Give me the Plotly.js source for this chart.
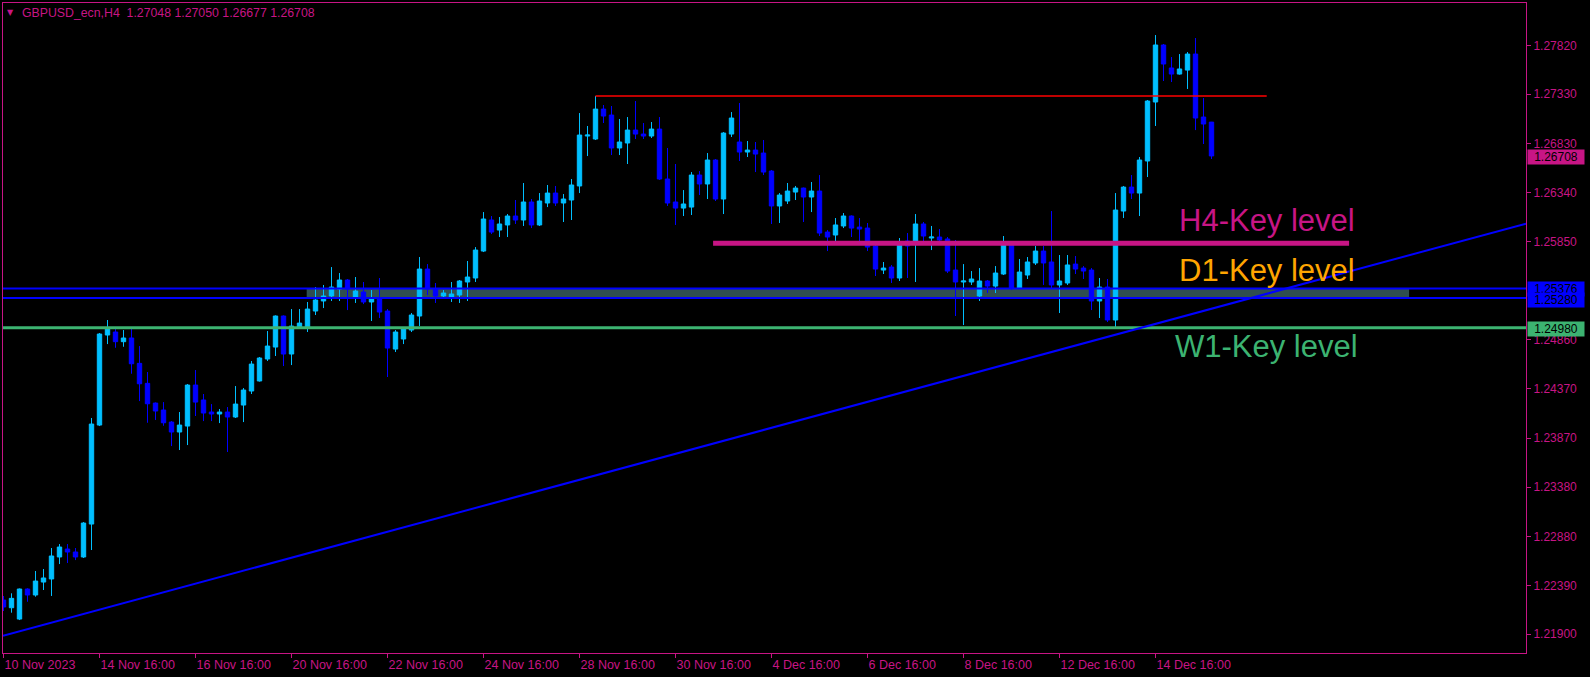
<!DOCTYPE html>
<html><head><meta charset="utf-8">
<script src="https://cdn.plot.ly/plotly-3.0.1.min.js"></script>
<style>html,body{margin:0;padding:0;background:#000;overflow:hidden}#chart{width:1590px;height:677px}</style>
</head><body><div id="chart"></div>
<script>
const symbolName = "GBPUSD_ecn,H4";

const openP = [1.22244,1.22167,1.22053,1.22355,1.22295,1.22425,1.22456,1.22677,1.22757,1.22727,
1.22677,1.23008,1.24003,1.24908,1.24938,1.24841,1.24878,1.24623,1.24422,1.24224,
1.24154,1.24033,1.23933,1.23993,1.24405,1.24255,1.24134,1.24114,1.24134,1.24084,
1.24204,1.24345,1.24446,1.24667,1.24787,1.25099,1.24717,1.24988,1.24978,1.25149,
1.25250,1.25300,1.25370,1.25461,1.25290,1.25340,1.25240,1.25270,1.25149,1.24767,
1.24868,1.24958,1.25099,1.25571,1.25370,1.25300,1.25290,1.25310,1.25441,1.25481,
1.25752,1.26064,1.25963,1.26014,1.26104,1.26064,1.26245,1.26014,1.26235,1.26335,
1.26235,1.26265,1.26406,1.26908,1.26878,1.27179,1.27119,1.26788,1.26838,1.26968,
1.26928,1.26908,1.26978,1.26476,1.26245,1.26184,1.26194,1.26516,1.26426,1.26667,
1.26275,1.26928,1.26848,1.26747,1.26767,1.26737,1.26556,1.26205,1.26255,1.26345,
1.26385,1.26295,1.26355,1.25943,1.25913,1.26004,1.26104,1.25993,1.25983,1.25803,
1.25561,1.25591,1.25481,1.25853,1.25853,1.26024,1.25883,1.25893,1.25873,1.25561,
1.25441,1.25441,1.25300,1.25451,1.25400,1.25521,1.25813,1.25380,1.25511,1.25632,
1.25752,1.25642,1.25411,1.25431,1.25621,1.25581,1.25561,1.25250,1.25390,1.25059,
1.26154,1.26395,1.26335,1.26657,1.27250,1.27823,1.27592,1.27531,1.27571,1.27732,
1.27099,1.27048];

const highP = [1.22285,1.22312,1.22360,1.22362,1.22536,1.22556,1.22767,1.22807,1.22807,1.22767,
1.23028,1.24074,1.24928,1.25059,1.24968,1.24958,1.24978,1.24797,1.24536,1.24230,
1.24234,1.24043,1.24134,1.24415,1.24556,1.24315,1.24214,1.24164,1.24184,1.24395,
1.24375,1.24647,1.24687,1.24948,1.25105,1.25105,1.25169,1.25169,1.25240,1.25390,
1.25411,1.25591,1.25531,1.25471,1.25491,1.25441,1.25360,1.25481,1.25169,1.24958,
1.24988,1.25129,1.25692,1.25621,1.25431,1.25360,1.25441,1.25461,1.25652,1.25792,
1.26144,1.26104,1.26094,1.26124,1.26265,1.26436,1.26275,1.26335,1.26416,1.26406,
1.26325,1.26476,1.27139,1.27009,1.27310,1.27220,1.27210,1.27079,1.27099,1.27260,
1.27039,1.27049,1.27099,1.26788,1.26627,1.26365,1.26546,1.26556,1.26737,1.26677,
1.26948,1.27149,1.27240,1.26858,1.26848,1.26868,1.26566,1.26335,1.26436,1.26406,
1.26390,1.26446,1.26516,1.25963,1.26084,1.26134,1.26110,1.26084,1.26034,1.25823,
1.25642,1.25612,1.25883,1.25933,1.26124,1.26044,1.26004,1.25973,1.25893,1.25863,
1.25621,1.25551,1.25581,1.25461,1.25601,1.25903,1.25833,1.25672,1.25692,1.25803,
1.25803,1.26154,1.25712,1.25712,1.25702,1.25601,1.25581,1.25481,1.25471,1.26335,
1.26406,1.26516,1.26697,1.27270,1.27923,1.27833,1.27702,1.27732,1.27752,1.27893,
1.27290,1.27050];

const lowP = [1.22134,1.22117,1.22043,1.22227,1.22278,1.22345,1.22285,1.22606,1.22616,1.22646,
1.22667,1.22747,1.23993,1.24817,1.24780,1.24790,1.24519,1.24244,1.24026,1.24054,
1.23996,1.23792,1.23752,1.23802,1.24094,1.24043,1.24043,1.24023,1.23732,1.24074,
1.24033,1.24315,1.24440,1.24647,1.24697,1.24596,1.24606,1.24980,1.24938,1.25109,
1.25179,1.25250,1.25250,1.25159,1.25230,1.25219,1.25049,1.25079,1.24486,1.24737,
1.24817,1.24938,1.24998,1.25310,1.25230,1.25290,1.25240,1.25230,1.25250,1.25441,
1.25742,1.25923,1.25893,1.25893,1.26024,1.26004,1.25983,1.26004,1.26194,1.26205,
1.26044,1.26064,1.26335,1.26707,1.26868,1.27039,1.26717,1.26717,1.26627,1.26878,
1.26878,1.26888,1.26466,1.26205,1.26014,1.26104,1.26114,1.26315,1.26275,1.26255,
1.26124,1.26898,1.26657,1.26697,1.26546,1.26516,1.26024,1.26034,1.26225,1.26265,
1.26044,1.26144,1.25903,1.25752,1.25853,1.25983,1.25893,1.25853,1.25752,1.25501,
1.25521,1.25431,1.25451,1.25481,1.25441,1.25853,1.25762,1.25853,1.25531,1.25099,
1.25008,1.25411,1.25250,1.25330,1.25330,1.25511,1.25360,1.25370,1.25471,1.25612,
1.25411,1.25380,1.25129,1.25411,1.25521,1.25471,1.25159,1.25079,1.25039,1.24988,
1.26084,1.26275,1.26104,1.26496,1.27009,1.27461,1.27451,1.27525,1.27381,1.26968,
1.26828,1.26677];

const closeP = [1.22174,1.22261,1.22355,1.22295,1.22435,1.22466,1.22687,1.22777,1.22727,1.22677,
1.23018,1.24013,1.24918,1.24978,1.24841,1.24878,1.24619,1.24418,1.24217,1.24144,
1.24026,1.23933,1.24003,1.24405,1.24234,1.24124,1.24114,1.24134,1.24084,1.24214,
1.24355,1.24616,1.24677,1.24797,1.25099,1.24717,1.24998,1.25028,1.25169,1.25260,
1.25300,1.25390,1.25461,1.25370,1.25350,1.25240,1.25270,1.25139,1.24777,1.24938,
1.24968,1.25109,1.25571,1.25370,1.25300,1.25330,1.25320,1.25451,1.25491,1.25762,
1.26074,1.25943,1.26024,1.26104,1.26064,1.26245,1.26014,1.26255,1.26335,1.26235,
1.26275,1.26416,1.26918,1.26918,1.27179,1.27109,1.26788,1.26848,1.26968,1.26928,
1.26908,1.26978,1.26476,1.26235,1.26184,1.26225,1.26516,1.26426,1.26667,1.26275,
1.26938,1.27089,1.26747,1.26767,1.26727,1.26546,1.26205,1.26315,1.26355,1.26385,
1.26295,1.26355,1.25933,1.25893,1.26014,1.26104,1.25983,1.25973,1.25792,1.25571,
1.25581,1.25481,1.25833,1.25803,1.26024,1.25903,1.25893,1.25863,1.25551,1.25441,
1.25451,1.25471,1.25451,1.25400,1.25531,1.25823,1.25380,1.25541,1.25642,1.25752,
1.25632,1.25411,1.25451,1.25612,1.25571,1.25551,1.25250,1.25390,1.25059,1.26164,
1.26395,1.26335,1.26667,1.27260,1.27823,1.27632,1.27531,1.27582,1.27732,1.27089,
1.27029,1.26708];

const dateTickBars = [0,12,24,36,48,60,72,84,96,108,120,132,144];
const dateTickLabels = ["10 Nov 2023","14 Nov 16:00","16 Nov 16:00","20 Nov 16:00","22 Nov 16:00",
  "24 Nov 16:00","28 Nov 16:00","30 Nov 16:00","4 Dec 16:00","6 Dec 16:00","8 Dec 16:00",
  "12 Dec 16:00","14 Dec 16:00"];

const priceTicks = [1.27820,1.27330,1.26830,1.26340,1.25850,1.24860,1.24370,1.23870,1.23380,1.22880,1.22390,1.21900];
const priceTickLabels = ["1.27820","1.27330","1.26830","1.26340","1.25850","1.24860","1.24370","1.23870","1.23380","1.22880","1.22390","1.21900"];

const resistanceLevel = 1.27310;
const h4Level = 1.25830;
const d1Zone = [1.25376, 1.25280];
const w1Level = 1.24980;
const trendBars = [0, 190];
const trendPrices = [1.21886, 1.26021];
const levelNames = ["H4-Key level", "D1-Key level", "W1-Key level"];

// ---- styling / geometry ----
const FG = "#C71585";
const X_RANGE = [-0.0625, 190.3125];
const Y_RANGE = [1.217119, 1.282452];
const barIdx = openP.map((_, i) => i);
const last = closeP.length - 1;

const trace = {
  type: "candlestick",
  x: barIdx, open: openP, high: highP, low: lowP, close: closeP,
  increasing: {line: {color: "#00BFFF", width: 1}, fillcolor: "#00BFFF"},
  decreasing: {line: {color: "#0000FF", width: 1}, fillcolor: "#0000FF"},
  whiskerwidth: 0, hoverinfo: "skip", showlegend: false
};

const slope = (trendPrices[1] - trendPrices[0]) / (trendBars[1] - trendBars[0]);
const shapes = [
  {type: "rect", layer: "below", xref: "x", yref: "y", x0: 37.9, x1: 175.7,
   y0: d1Zone[1], y1: d1Zone[0], fillcolor: "#2F4F4F", line: {width: 0}},
  {type: "line", xref: "paper", yref: "y", x0: 0, x1: 1, y0: d1Zone[0], y1: d1Zone[0], line: {color: "#0000FF", width: 2}},
  {type: "line", xref: "paper", yref: "y", x0: 0, x1: 1, y0: d1Zone[1], y1: d1Zone[1], line: {color: "#0000FF", width: 2}},
  {type: "line", xref: "paper", yref: "y", x0: 0, x1: 1, y0: w1Level, y1: w1Level, line: {color: "#3CB371", width: 3}},
  {type: "line", xref: "x", yref: "y", x0: 74, x1: 157.9, y0: resistanceLevel, y1: resistanceLevel, line: {color: "#FF0000", width: 1.5}},
  {type: "line", xref: "x", yref: "y", x0: 88.7, x1: 168.2, y0: h4Level, y1: h4Level, line: {color: FG, width: 5}},
  {type: "line", xref: "x", yref: "y", x0: X_RANGE[0], x1: X_RANGE[1],
   y0: trendPrices[0] + slope * (X_RANGE[0] - trendBars[0]),
   y1: trendPrices[0] + slope * (X_RANGE[1] - trendBars[0]),
   line: {color: "#0000FF", width: 2}}
];

const fix5 = v => v.toFixed(5);
const boxFont = {family: "Liberation Sans, Arial, sans-serif", size: 12, color: "#000000"};
function priceBox(price, bg, yshift) {
  return {xref: "paper", yref: "y", x: 1, y: price, xanchor: "left", yanchor: "middle",
    xshift: 1, yshift: yshift, text: fix5(price), showarrow: false, bgcolor: bg,
    width: 56, height: 14, borderpad: 0, align: "center", font: boxFont};
}
const bigFont = (c) => ({family: "Liberation Sans, Arial, sans-serif", size: 31, color: c});
const annotations = [
  {xref: "paper", yref: "paper", x: 0, y: 1, xanchor: "left", yanchor: "middle", xshift: 3, yshift: -9,
   text: "▼", showarrow: false, borderpad: 0, font: {family: "DejaVu Sans, sans-serif", size: 8, color: FG}},
  {xref: "paper", yref: "paper", x: 0, y: 1, xanchor: "left", yanchor: "middle", xshift: 18, yshift: -9.5,
   text: symbolName + "\u00a0\u00a0" + [openP[last], highP[last], lowP[last], closeP[last]].map(fix5).join(" "),
   showarrow: false, borderpad: 0, font: {family: "Liberation Sans, Arial, sans-serif", size: 12.3, color: FG}},
  priceBox(closeP[last], FG, -1),
  priceBox(d1Zone[0], "#0000FF", -1),
  priceBox(d1Zone[1], "#0000FF", -2),
  priceBox(w1Level, "#3CB371", -1),
  {xref: "x", yref: "y", x: 157.9, y: h4Level, xanchor: "center", yanchor: "middle", yshift: 23,
   text: levelNames[0], showarrow: false, font: bigFont(FG)},
  {xref: "x", yref: "y", x: 157.9, y: d1Zone[0], xanchor: "center", yanchor: "middle", yshift: 17.5,
   text: levelNames[1], showarrow: false, font: bigFont("#FFA500")},
  {xref: "x", yref: "y", x: 157.9, y: w1Level, xanchor: "center", yanchor: "middle", yshift: -19,
   text: levelNames[2], showarrow: false, font: bigFont("#3CB371")}
];

const layout = {
  width: 1590, height: 677,
  paper_bgcolor: "#000000", plot_bgcolor: "#000000",
  margin: {l: 3, r: 64, t: 3, b: 24, pad: 0},
  showlegend: false,
  boxgap: 0.45, boxgroupgap: 0,
  xaxis: {
    range: X_RANGE, rangeslider: {visible: false}, showgrid: false, zeroline: false,
    showline: true, mirror: true, linecolor: FG, linewidth: 1,
    tickmode: "array", tickvals: dateTickBars, ticktext: dateTickLabels,
    ticks: "outside", ticklen: 4, tickwidth: 1, tickcolor: FG,
    ticklabelposition: "outside right",
    tickfont: {family: "Liberation Sans, Arial, sans-serif", size: 12.5, color: FG}
  },
  yaxis: {
    range: Y_RANGE, side: "right", showgrid: false, zeroline: false,
    showline: true, mirror: true, linecolor: FG, linewidth: 1,
    tickmode: "array", tickvals: priceTicks, ticktext: priceTickLabels,
    ticks: "outside", ticklen: 4, tickwidth: 1, tickcolor: FG,
    tickfont: {family: "Liberation Sans, Arial, sans-serif", size: 12, color: FG}
  },
  shapes: shapes,
  annotations: annotations
};

Plotly.newPlot("chart", [trace], layout, {staticPlot: true, displayModeBar: false});
</script>
</body></html>
